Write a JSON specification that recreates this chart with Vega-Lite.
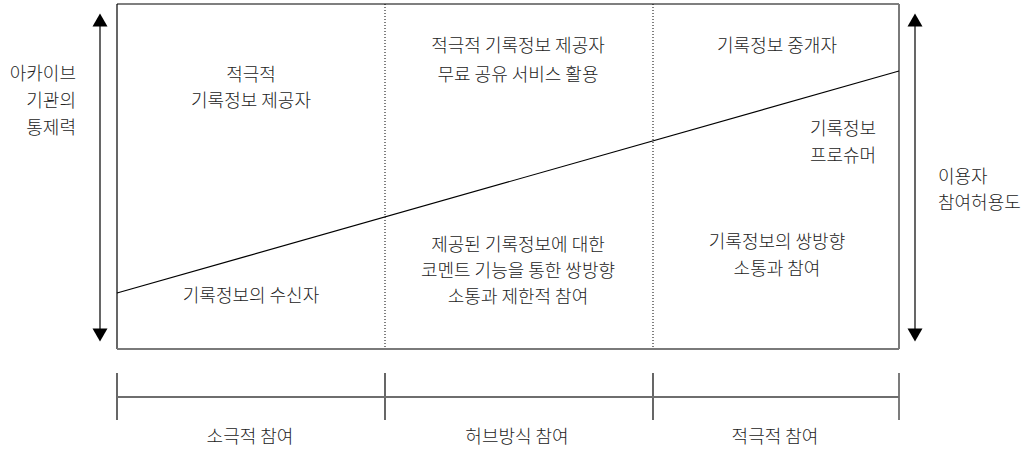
{
  "$schema": "https://vega.github.io/schema/vega-lite/v6.json",
  "width": 1029,
  "height": 450,
  "padding": 0,
  "autosize": {"type": "fit", "contains": "padding"},
  "config": {"view": {"stroke": null}, "text": {"font": "Noto Sans CJK KR", "fontSize": 18, "letterSpacing": 1.3, "fontWeight": 300, "color": "#222222"}},
  "datasets": {
    "segments": [
      {"kind": "boxdark", "x1": 117, "y1": 4, "x2": 899, "y2": 4},
      {"kind": "boxdark", "x1": 117, "y1": 4, "x2": 117, "y2": 349},
      {"kind": "boxlight", "x1": 899, "y1": 4, "x2": 899, "y2": 349},
      {"kind": "boxlight", "x1": 117, "y1": 349, "x2": 899, "y2": 349},
      {"kind": "dotted", "x1": 385, "y1": 4, "x2": 385, "y2": 349},
      {"kind": "dotted", "x1": 653, "y1": 4, "x2": 653, "y2": 349},
      {"kind": "diag", "x1": 117, "y1": 293, "x2": 899, "y2": 71},
      {"kind": "arrow", "x1": 100, "y1": 24, "x2": 100, "y2": 331},
      {"kind": "arrow", "x1": 915, "y1": 24, "x2": 915, "y2": 331},
      {"kind": "scale", "x1": 117, "y1": 397, "x2": 899, "y2": 397},
      {"kind": "tick", "x1": 117, "y1": 373, "x2": 117, "y2": 420},
      {"kind": "tick", "x1": 385, "y1": 373, "x2": 385, "y2": 420},
      {"kind": "tick", "x1": 653, "y1": 373, "x2": 653, "y2": 420},
      {"kind": "ticklight", "x1": 899, "y1": 373, "x2": 899, "y2": 420}
    ],
    "heads": [
      {"x": 100, "y": 20, "dir": "up"},
      {"x": 100, "y": 335, "dir": "down"},
      {"x": 915, "y": 20, "dir": "up"},
      {"x": 915, "y": 335, "dir": "down"}
    ],
    "labels": [
      {"pos": "right", "x": 76, "y": 75, "label": "아카이브"},
      {"pos": "right", "x": 76, "y": 102, "label": "기관의"},
      {"pos": "right", "x": 76, "y": 129, "label": "통제력"},
      {"pos": "left", "x": 938, "y": 178, "label": "이용자"},
      {"pos": "left", "x": 938, "y": 204, "label": "참여허용도"},
      {"pos": "center", "x": 251, "y": 76, "label": "적극적"},
      {"pos": "center", "x": 251, "y": 102, "label": "기록정보 제공자"},
      {"pos": "center", "x": 251, "y": 297, "label": "기록정보의 수신자"},
      {"pos": "center", "x": 518, "y": 47, "label": "적극적 기록정보 제공자"},
      {"pos": "center", "x": 518, "y": 76, "label": "무료 공유 서비스 활용"},
      {"pos": "center", "x": 518, "y": 246, "label": "제공된 기록정보에 대한"},
      {"pos": "center", "x": 518, "y": 272, "label": "코멘트 기능을 통한 쌍방향"},
      {"pos": "center", "x": 518, "y": 298, "label": "소통과 제한적 참여"},
      {"pos": "center", "x": 777, "y": 47, "label": "기록정보 중개자"},
      {"pos": "center", "x": 843, "y": 130, "label": "기록정보"},
      {"pos": "center", "x": 843, "y": 157, "label": "프로슈머"},
      {"pos": "center", "x": 777, "y": 243, "label": "기록정보의 쌍방향"},
      {"pos": "center", "x": 777, "y": 270, "label": "소통과 참여"},
      {"pos": "center", "x": 250, "y": 438, "label": "소극적 참여"},
      {"pos": "center", "x": 517, "y": 438, "label": "허브방식 참여"},
      {"pos": "center", "x": 775, "y": 438, "label": "적극적 참여"}
    ]
  },
  "layer": [
    {
      "data": {"name": "segments"},
      "transform": [{"filter": "datum.kind === 'boxdark'"}],
      "mark": {"type": "rule", "color": "#000000", "strokeWidth": 1.2},
      "encoding": {
        "x": {"field": "x1", "type": "quantitative", "scale": {"domain": [0, 1029], "nice": false, "zero": false}, "axis": null},
        "x2": {"field": "x2"},
        "y": {"field": "y1", "type": "quantitative", "scale": {"domain": [0, 450], "nice": false, "zero": false, "reverse": true}, "axis": null},
        "y2": {"field": "y2"}
      }
    },
    {
      "data": {"name": "segments"},
      "transform": [{"filter": "datum.kind === 'boxlight'"}],
      "mark": {"type": "rule", "color": "#7a7a7a", "strokeWidth": 2},
      "encoding": {
        "x": {"field": "x1", "type": "quantitative", "scale": {"domain": [0, 1029], "nice": false, "zero": false}, "axis": null},
        "x2": {"field": "x2"},
        "y": {"field": "y1", "type": "quantitative", "scale": {"domain": [0, 450], "nice": false, "zero": false, "reverse": true}, "axis": null},
        "y2": {"field": "y2"}
      }
    },
    {
      "data": {"name": "segments"},
      "transform": [{"filter": "datum.kind === 'dotted'"}],
      "mark": {"type": "rule", "color": "#000000", "strokeWidth": 1, "strokeDash": [1, 2]},
      "encoding": {
        "x": {"field": "x1", "type": "quantitative", "scale": {"domain": [0, 1029], "nice": false, "zero": false}, "axis": null},
        "x2": {"field": "x2"},
        "y": {"field": "y1", "type": "quantitative", "scale": {"domain": [0, 450], "nice": false, "zero": false, "reverse": true}, "axis": null},
        "y2": {"field": "y2"}
      }
    },
    {
      "data": {"name": "segments"},
      "transform": [{"filter": "datum.kind === 'diag' || datum.kind === 'arrow' || datum.kind === 'tick'"}],
      "mark": {"type": "rule", "color": "#000000", "strokeWidth": 1.2},
      "encoding": {
        "x": {"field": "x1", "type": "quantitative", "scale": {"domain": [0, 1029], "nice": false, "zero": false}, "axis": null},
        "x2": {"field": "x2"},
        "y": {"field": "y1", "type": "quantitative", "scale": {"domain": [0, 450], "nice": false, "zero": false, "reverse": true}, "axis": null},
        "y2": {"field": "y2"}
      }
    },
    {
      "data": {"name": "segments"},
      "transform": [{"filter": "datum.kind === 'scale' || datum.kind === 'ticklight'"}],
      "mark": {"type": "rule", "color": "#6e6e6e", "strokeWidth": 1.8},
      "encoding": {
        "x": {"field": "x1", "type": "quantitative", "scale": {"domain": [0, 1029], "nice": false, "zero": false}, "axis": null},
        "x2": {"field": "x2"},
        "y": {"field": "y1", "type": "quantitative", "scale": {"domain": [0, 450], "nice": false, "zero": false, "reverse": true}, "axis": null},
        "y2": {"field": "y2"}
      }
    },
    {
      "data": {"name": "heads"},
      "mark": {"type": "point", "filled": true, "color": "#000000", "size": 225, "opacity": 1},
      "encoding": {
        "x": {"field": "x", "type": "quantitative", "scale": {"domain": [0, 1029], "nice": false, "zero": false}, "axis": null},
        "y": {"field": "y", "type": "quantitative", "scale": {"domain": [0, 450], "nice": false, "zero": false, "reverse": true}, "axis": null},
        "shape": {"field": "dir", "type": "nominal", "scale": {"domain": ["up", "down"], "range": ["triangle-up", "triangle-down"]}, "legend": null}
      }
    },
    {
      "data": {"name": "labels"},
      "transform": [{"filter": "datum.pos === 'center'"}],
      "mark": {"type": "text", "align": "center", "baseline": "middle"},
      "encoding": {
        "x": {"field": "x", "type": "quantitative", "scale": {"domain": [0, 1029], "nice": false, "zero": false}, "axis": null},
        "y": {"field": "y", "type": "quantitative", "scale": {"domain": [0, 450], "nice": false, "zero": false, "reverse": true}, "axis": null},
        "text": {"field": "label", "type": "nominal"}
      }
    },
    {
      "data": {"name": "labels"},
      "transform": [{"filter": "datum.pos === 'right'"}],
      "mark": {"type": "text", "align": "right", "baseline": "middle"},
      "encoding": {
        "x": {"field": "x", "type": "quantitative", "scale": {"domain": [0, 1029], "nice": false, "zero": false}, "axis": null},
        "y": {"field": "y", "type": "quantitative", "scale": {"domain": [0, 450], "nice": false, "zero": false, "reverse": true}, "axis": null},
        "text": {"field": "label", "type": "nominal"}
      }
    },
    {
      "data": {"name": "labels"},
      "transform": [{"filter": "datum.pos === 'left'"}],
      "mark": {"type": "text", "align": "left", "baseline": "middle"},
      "encoding": {
        "x": {"field": "x", "type": "quantitative", "scale": {"domain": [0, 1029], "nice": false, "zero": false}, "axis": null},
        "y": {"field": "y", "type": "quantitative", "scale": {"domain": [0, 450], "nice": false, "zero": false, "reverse": true}, "axis": null},
        "text": {"field": "label", "type": "nominal"}
      }
    }
  ]
}
